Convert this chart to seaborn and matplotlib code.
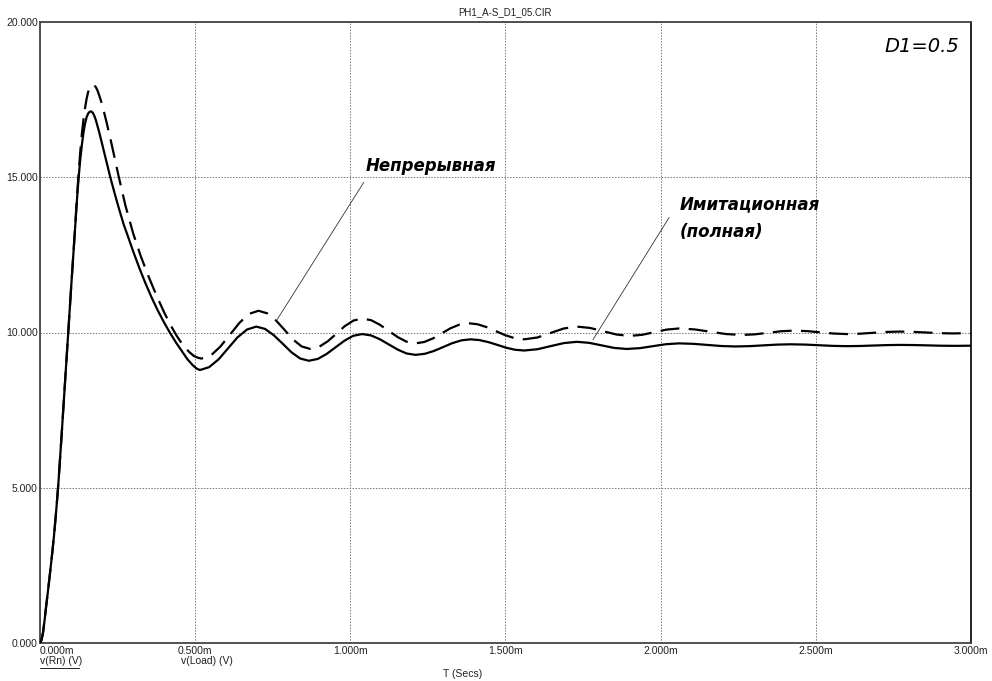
import matplotlib
matplotlib.use("Agg")
import matplotlib.pyplot as plt
from matplotlib.lines import Line2D
import pandas as pd
import seaborn as sns

# Transient response, time in ms, voltage in V
t_solid = [0.000, 0.005, 0.010, 0.015, 0.020, 0.025, 0.030, 0.035, 0.040, 0.045,
           0.050, 0.055, 0.060, 0.065, 0.070, 0.080, 0.090, 0.100, 0.110, 0.120,
           0.125, 0.130, 0.135, 0.140, 0.145, 0.150, 0.155, 0.160, 0.165, 0.170,
           0.175, 0.180, 0.190, 0.200, 0.213, 0.226, 0.240, 0.255, 0.270, 0.285,
           0.300, 0.320, 0.340, 0.360, 0.380, 0.400, 0.420, 0.440, 0.460, 0.475,
           0.490, 0.503, 0.515,
           0.545, 0.576, 0.606, 0.636, 0.667, 0.697,
           0.725, 0.753, 0.782, 0.810, 0.838, 0.866,
           0.895, 0.923, 0.952, 0.981, 1.009, 1.038,
           1.067, 1.095, 1.124, 1.153, 1.181, 1.210,
           1.240, 1.269, 1.299, 1.328, 1.358, 1.387,
           1.416, 1.445, 1.474, 1.502, 1.531, 1.560,
           1.603, 1.645, 1.688, 1.730,
           1.770, 1.810, 1.850, 1.890,
           1.933, 1.975, 2.018, 2.060,
           2.105, 2.150, 2.195, 2.240,
           2.285, 2.330, 2.375, 2.420,
           2.465, 2.510, 2.555, 2.600,
           2.643, 2.685, 2.728, 2.770,
           2.815, 2.860, 2.905, 2.950, 3.000]
v_solid = [0.0, 0.1, 0.35, 0.75, 1.2, 1.62, 2.05, 2.5, 2.95, 3.45,
           4.0, 4.6, 5.25, 6.0, 6.75, 8.3, 9.85, 11.4, 12.9, 14.4,
           15.05, 15.6, 16.05, 16.43, 16.72, 16.93, 17.05, 17.11, 17.12, 17.08,
           16.98, 16.84, 16.48, 16.08, 15.55, 15.02, 14.5, 13.97, 13.47, 13.05,
           12.62, 12.08, 11.58, 11.12, 10.7, 10.32, 9.97, 9.65, 9.36, 9.14,
           8.97, 8.85, 8.79,
           8.884, 9.14, 9.49, 9.84, 10.096, 10.19,
           10.116, 9.915, 9.64, 9.365, 9.164, 9.09,
           9.148, 9.305, 9.52, 9.735, 9.892, 9.95,
           9.905, 9.783, 9.615, 9.448, 9.325, 9.28,
           9.314, 9.405, 9.53, 9.655, 9.747, 9.78,
           9.756, 9.69, 9.60, 9.51, 9.444, 9.42,
           9.461, 9.56, 9.659, 9.70,
           9.666, 9.585, 9.504, 9.47,
           9.496, 9.56, 9.624, 9.65,
           9.635, 9.60, 9.565, 9.55,
           9.56, 9.585, 9.61, 9.62,
           9.611, 9.59, 9.569, 9.56,
           9.566, 9.58, 9.594, 9.60,
           9.596, 9.585, 9.574, 9.57, 9.575]

t_dash = [0.000, 0.005, 0.010, 0.015, 0.020, 0.025, 0.030, 0.035, 0.040, 0.045,
          0.050, 0.055, 0.060, 0.065, 0.070, 0.080, 0.090, 0.100, 0.110,
          0.120, 0.125, 0.130, 0.135, 0.140, 0.145, 0.150, 0.155, 0.160, 0.165,
          0.170, 0.175, 0.180, 0.185, 0.190, 0.200, 0.215, 0.230, 0.253, 0.275,
          0.300, 0.325, 0.350, 0.375, 0.400, 0.420, 0.440, 0.460, 0.480, 0.495,
          0.508, 0.520,
          0.551, 0.581, 0.612, 0.643, 0.673, 0.704,
          0.732, 0.760, 0.788, 0.815, 0.843, 0.871,
          0.899, 0.927, 0.955, 0.982, 1.010, 1.038,
          1.067, 1.095, 1.124, 1.153, 1.181, 1.210,
          1.238, 1.267, 1.295, 1.323, 1.352, 1.380,
          1.410, 1.440, 1.470, 1.500, 1.530, 1.560,
          1.603, 1.645, 1.688, 1.730,
          1.773, 1.815, 1.858, 1.900,
          1.940, 1.980, 2.020, 2.060,
          2.110, 2.160, 2.210, 2.260,
          2.303, 2.345, 2.388, 2.430,
          2.473, 2.515, 2.558, 2.600,
          2.643, 2.685, 2.728, 2.770,
          2.813, 2.855, 2.898, 2.940, 3.000]
v_dash = [0.0, 0.1, 0.35, 0.75, 1.2, 1.62, 2.05, 2.5, 2.95, 3.45,
          4.0, 4.6, 5.25, 6.0, 6.75, 8.3, 9.85, 11.4, 12.9,
          14.5, 15.2, 15.85, 16.4, 16.85, 17.22, 17.52, 17.74, 17.88, 17.95,
          17.98, 17.96, 17.9, 17.8, 17.66, 17.35, 16.75, 16.1, 15.05, 14.1,
          13.2, 12.45, 11.8, 11.2, 10.65, 10.25, 9.9, 9.6, 9.38, 9.25,
          9.19, 9.16,
          9.263, 9.545, 9.93, 10.315, 10.597, 10.70,
          10.618, 10.393, 10.085, 9.778, 9.552, 9.47,
          9.536, 9.715, 9.96, 10.205, 10.384, 10.45,
          10.396, 10.25, 10.05, 9.85, 9.704, 9.65,
          9.694, 9.813, 9.975, 10.138, 10.256, 10.30,
          10.265, 10.17, 10.04, 9.91, 9.815, 9.78,
          9.84, 9.985, 10.13, 10.19,
          10.146, 10.04, 9.934, 9.89,
          9.925, 10.01, 10.095, 10.13,
          10.099, 10.025, 9.951, 9.92,
          9.94, 9.99, 10.04, 10.06,
          10.044, 10.005, 9.966, 9.95,
          9.962, 9.99, 10.018, 10.03,
          10.021, 10.0, 9.979, 9.97, 9.98]

x_ticks = [0.0, 0.5, 1.0, 1.5, 2.0, 2.5, 3.0]
x_tick_labels = ["0.000m", "0.500m", "1.000m", "1.500m", "2.000m", "2.500m", "3.000m"]
y_ticks = [0, 5, 10, 15, 20]
y_tick_labels = ["0.000", "5.000", "10.000", "15.000", "20.000"]

sns.set_style("white")
plt.rcParams["font.family"] = ["Liberation Sans", "DejaVu Sans"]

W, H = 992, 681
fig = plt.figure(figsize=(W / 100, H / 100), dpi=100)
ax = fig.add_axes([40 / W, 1 - 643 / H, 931 / W, 621 / H])

df_solid = pd.DataFrame({"t": t_solid, "v": v_solid})
df_dash = pd.DataFrame({"t": t_dash, "v": v_dash})

sns.lineplot(data=df_solid, x="t", y="v", ax=ax, color="black", lw=1.6,
             estimator=None, sort=False, zorder=3)
sns.lineplot(data=df_dash, x="t", y="v", ax=ax, color="black", lw=1.6,
             linestyle=(0, (8.5, 4.2)), estimator=None, sort=False, zorder=3)

ax.set_xlim(0, 3.0)
ax.set_ylim(0, 20)
ax.set_xticks(x_ticks)
ax.set_xticklabels(x_tick_labels)
ax.set_yticks(y_ticks)
ax.set_yticklabels(y_tick_labels)
ax.get_xticklabels()[0].set_ha("left")
ax.tick_params(axis="both", length=0, labelsize=7.5, colors="#222222")
ax.tick_params(axis="x", pad=2)
ax.tick_params(axis="y", pad=1.5)
ax.set_xlabel("")
ax.set_ylabel("")

ax.grid(True, color="#777777", lw=0.7, linestyle=(0, (1.5, 1.5)))
for s in ax.spines.values():
    s.set_visible(True)
    s.set_color("#444444")
    s.set_linewidth(1.3)
ax.spines["right"].set_color("#111111")

# title and curve captions
fig.text(505.5 / W, 1 - 12 / H, "PH1_A-S_D1_05.CIR", ha="center", va="center",
         fontsize=7, color="#222222")
fig.text(40 / W, 1 - 661 / H, "v(Rn) (V)", ha="left", va="center",
         fontsize=7.5, color="#222222")
fig.add_artist(Line2D([40 / W, 79 / W], [1 - 667.5 / H, 1 - 667.5 / H],
                      color="#222222", lw=0.7))
fig.text(181 / W, 1 - 661 / H, "v(Load) (V)", ha="left", va="center",
         fontsize=7.5, color="#222222")
fig.text(463 / W, 1 - 674 / H, "T (Secs)", ha="center", va="center",
         fontsize=7.5, color="#222222")

hand = dict(family="DejaVu Sans", style="oblique", color="black")
ax.text(2.961, 19.21, "D1=0.5", ha="right", va="center", fontsize=14, **hand)
ax.text(1.05, 15.35, "Непрерывная", ha="left", va="center", fontsize=12,
        fontweight="bold", **hand)
ax.text(2.06, 14.14, "Имитационная", ha="left", va="center", fontsize=12,
        fontweight="bold", **hand)
ax.text(2.06, 13.24, "(полная)", ha="left", va="center", fontsize=12,
        fontweight="bold", **hand)

ax.annotate("", xy=(0.760, 10.35), xytext=(1.048, 14.91),
            arrowprops=dict(arrowstyle="-", color="#333333", lw=0.6))
ax.annotate("", xy=(1.777, 9.69), xytext=(2.032, 13.78),
            arrowprops=dict(arrowstyle="-", color="#333333", lw=0.6))

fig.savefig("out.png", dpi=100, facecolor="white")
